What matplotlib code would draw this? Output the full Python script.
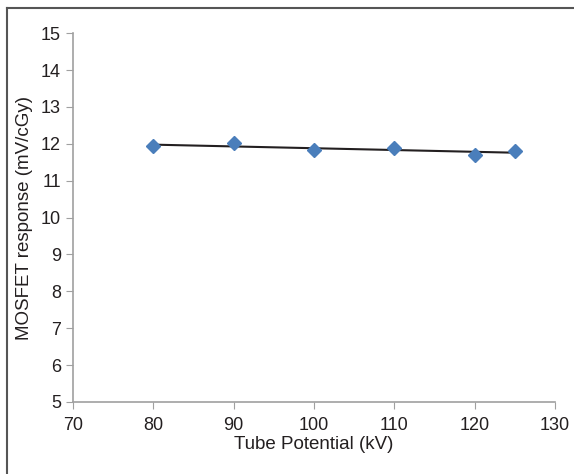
import matplotlib
matplotlib.use('Agg')
import matplotlib.pyplot as plt
from matplotlib.lines import Line2D
import numpy as np

kv = [80, 90, 100, 110, 120, 125]
response = [11.93, 12.02, 11.82, 11.89, 11.70, 11.80]

plt.rcParams['font.family'] = ['Liberation Sans', 'DejaVu Sans']

fig = plt.figure(figsize=(5.74, 4.74), dpi=100)
ax = fig.add_axes([0.127, 0.152, 0.84, 0.778])

# linear trendline
k, b = np.polyfit(kv, response, 1)
xs = np.array([kv[0], kv[-1]])
ax.plot(xs, k * xs + b, color='#231f20', lw=1.5, zorder=2)
ax.plot(kv, response, 'D', color='#4a7ebb', ms=7.5, mec='#4a7ebb', zorder=3)

ax.set_xlim(70, 130)
ax.set_ylim(5, 15)
ax.set_xticks(range(70, 131, 10))
ax.set_yticks(range(5, 16))
ax.set_xlabel('Tube Potential (kV)', fontsize=13.5, color='#231f20', labelpad=1)
ax.set_ylabel('MOSFET response (mV/cGy)', fontsize=13.5, color='#231f20', labelpad=6)

for s in ['top', 'right']:
    ax.spines[s].set_visible(False)
for s in ['left', 'bottom']:
    ax.spines[s].set_color('#a0a0a0')
    ax.spines[s].set_linewidth(1.2)
ax.tick_params(direction='out', length=5, color='#a0a0a0', labelsize=13,
               labelcolor='#231f20')
ax.tick_params(axis='x', pad=6)

# outer frame (left and top)
fig.add_artist(Line2D([0.013, 0.013], [0, 0.983], color='#555555', lw=1.5,
                      transform=fig.transFigure))
fig.add_artist(Line2D([0.013, 1], [0.983, 0.983], color='#555555', lw=1.5,
                      transform=fig.transFigure))

fig.savefig('out.png', dpi=100)
